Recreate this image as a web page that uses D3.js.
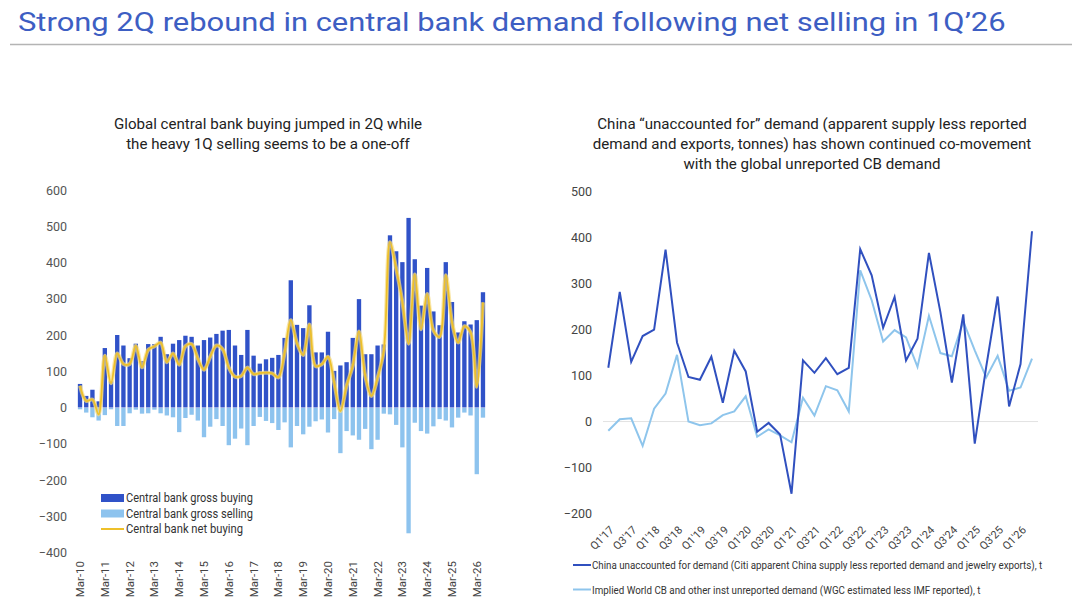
<!DOCTYPE html>
<html>
<head>
<meta charset="utf-8">
<script src="https://cdn.jsdelivr.net/npm/d3@7"></script>
<style>
  body { margin: 0; background: #fff; }
  text { font-family: Roboto, "Noto Sans", sans-serif; }
</style>
</head>
<body>
<div id="chart"></div>
<script>
// left panel: quarterly central bank flows, tonnes
var years = d3.range(2010, 2027);
var months = ["Mar", "Jun", "Sep", "Dec"];
var cbQuarters = [];
years.forEach(function(y) {
  months.forEach(function(m) {
    if (y == 2026 && (m == "Sep" || m == "Dec")) return;
    cbQuarters.push(m + "-" + String(y).slice(2));
  });
});

var grossBuying = [65,32,49,17,164,72,200,171,136,176,
  128,175,175,195,147,176,186,198,195,171,
  186,193,203,212,214,171,145,214,143,121,
  133,137,145,192,351,228,219,282,152,152,
  209,101,116,125,192,299,147,147,171,174,
  475,431,401,523,409,281,385,265,227,401,
  291,207,238,229,241,318];

var grossSelling = [-5,-14,-27,-36,-21,-5,-51,-51,-16,-6,
  -17,-16,-6,-16,-22,-27,-68,-29,-20,-36,
  -82,-53,-32,-51,-104,-86,-58,-104,-51,-26,
  -37,-43,-62,-41,-110,-51,-74,-53,-38,-33,
  -69,-32,-126,-65,-77,-89,-59,-115,-89,-17,
  -19,-48,-110,-347,-42,-65,-72,-52,-32,-36,
  -55,-28,-14,-22,-184,-28];

var netBuying = [60,18,22,-19,143,67,149,120,120,170,
  111,159,169,179,125,149,118,169,175,135,
  104,140,171,161,110,85,87,110,92,95,
  96,94,83,151,241,177,145,229,114,119,
  140,69,-10,60,115,210,88,32,82,157,
  456,383,291,176,367,216,313,213,195,365,
  236,179,224,207,57,290];

var leftTicks = [-400,-300,-200,-100,0,100,200,300,400,500,600];

// right panel: China unaccounted vs implied CB demand, tonnes
var chinaQuarters = [];
d3.range(17, 27).forEach(function(y) {
  [1,2,3,4].forEach(function(q) {
    if (y == 26 && q > 2) return;
    chinaQuarters.push("Q" + q + "'" + y);
  });
});

var chinaUnaccounted = [117,282,130,186,200,374,172,97,91,141,
  41,154,109,-22,-3,-28,-157,133,106,138,
  103,117,375,318,204,271,133,180,367,238,
  85,233,-48,119,272,33,125,414];

var impliedCB = [-20,5,7,-53,28,61,145,0,-8,-4,
  14,22,55,-33,-17,-30,-45,52,13,77,
  68,22,329,264,174,199,183,119,230,149,
  142,218,155,96,143,67,74,137];

var rightTicks = [-200,-100,0,100,200,300,400,500];

var colBuy = "#3052C8", colSell = "#8DC3EE", colNet = "#EEC02A";
var colChina = "#3050BF", colImplied = "#8EC5EC";

var svg = d3.select("#chart")
  .append("svg")
    .attr("width", 1080)
    .attr("height", 609);

svg.append("rect").attr("width", 1080).attr("height", 609).attr("fill", "#fff");

// squeeze a text horizontally to a given width (the source font is condensed)
function fitWidth(sel, x0, y0) {
  sel.each(function(d) {
    var w = this.getComputedTextLength();
    var k = d.len / w;
    d3.select(this).attr("transform", "translate(" + x0 + "," + y0 + ") scale(" + k + ",1)");
  });
}

// header
var header = [{name: "Strong 2Q rebound in central bank demand following net selling in 1Q\u201926", len: 988}];
svg.selectAll("htitle")
  .data(header)
  .enter()
  .append("text")
    .attr("font-size", 26.5)
    .attr("fill", "#3D5EC3")
    .text(function(d) { return d.name; })
    .call(fitWidth, 18, 31);

svg.append("line")
  .attr("x1", 10).attr("x2", 1072)
  .attr("y1", 44.5).attr("y2", 44.5)
  .attr("stroke", "#b4b4b4")
  .attr("stroke-width", 1.5);

// ---------- left chart ----------
var leftTitle = ["Global central bank buying jumped in 2Q while", "the heavy 1Q selling seems to be a one-off"];
svg.selectAll("ltitle")
  .data(leftTitle)
  .enter()
  .append("text")
    .attr("x", 268)
    .attr("y", function(d, i) { return 129 + i * 20; })
    .attr("text-anchor", "middle")
    .attr("font-size", 15.1)
    .attr("fill", "#222")
    .text(function(d) { return d; });

var x = d3.scaleBand()
  .domain(cbQuarters)
  .range([76, 487])
  .padding(0.3);

var y = d3.scaleLinear()
  .domain([-400, 600])
  .range([552.5, 190]);

var yAxisL = svg.append("g")
  .attr("transform", "translate(67,0)")
  .call(d3.axisLeft(y).tickValues(leftTicks).tickSize(0).tickPadding(0));
yAxisL.select(".domain").remove();
yAxisL.selectAll("text")
  .attr("font-size", 12.5)
  .attr("fill", "#555")
  .attr("font-family", "Roboto, sans-serif");

svg.selectAll("buybar")
  .data(grossBuying)
  .enter()
  .append("rect")
    .attr("x", function(d, i) { return x(cbQuarters[i]); })
    .attr("width", x.bandwidth())
    .attr("y", function(d) { return y(d); })
    .attr("height", function(d) { return y(0) - y(d); })
    .attr("fill", colBuy);

svg.selectAll("sellbar")
  .data(grossSelling)
  .enter()
  .append("rect")
    .attr("x", function(d, i) { return x(cbQuarters[i]); })
    .attr("width", x.bandwidth())
    .attr("y", y(0) + 0.5)
    .attr("height", function(d) { return Math.max(0, y(d) - y(0) - 0.5); })
    .attr("fill", colSell);

var netLine = d3.line()
  .x(function(d, i) { return x(cbQuarters[i]) + x.bandwidth() / 2; })
  .y(function(d) { return y(d); })
  .curve(d3.curveCatmullRom.alpha(0.5));

svg.append("path")
  .datum(netBuying)
  .attr("d", netLine)
  .attr("fill", "none")
  .attr("stroke", "#F6DC80")
  .attr("stroke-opacity", 0.7)
  .attr("stroke-width", 4);
svg.append("path")
  .datum(netBuying)
  .attr("d", netLine)
  .attr("fill", "none")
  .attr("stroke", colNet)
  .attr("stroke-width", 1.8);

// x labels, only March quarters
var xAxisL = svg.append("g")
  .attr("transform", "translate(0,558)")
  .call(d3.axisBottom(x)
    .tickValues(cbQuarters.filter(function(d) { return d.indexOf("Mar") == 0; }))
    .tickSize(0).tickPadding(0));
xAxisL.select(".domain").remove();
xAxisL.selectAll("text")
  .attr("transform", "rotate(-90)")
  .attr("x", -3)
  .attr("y", 0)
  .attr("dy", "0.35em")
  .style("text-anchor", "end")
  .attr("font-size", 11.5)
  .attr("fill", "#444")
  .attr("font-family", "Roboto, sans-serif");

// legend
var leftLegend = [
  {name: "Central bank gross buying", type: "rect", color: colBuy, len: 127},
  {name: "Central bank gross selling", type: "rect", color: colSell, len: 127},
  {name: "Central bank net buying", type: "line", color: colNet, len: 117}
];
var lg = svg.selectAll("lleg")
  .data(leftLegend)
  .enter()
  .append("g")
    .attr("transform", function(d, i) { return "translate(101," + (498 + i * 15.5) + ")"; });
lg.filter(function(d) { return d.type == "rect"; })
  .append("rect")
    .attr("x", 0).attr("y", -4)
    .attr("width", 23).attr("height", 8)
    .attr("fill", function(d) { return d.color; });
lg.filter(function(d) { return d.type == "line"; })
  .append("line")
    .attr("x1", 0).attr("x2", 23)
    .attr("stroke", function(d) { return d.color; })
    .attr("stroke-width", 2);
lg.append("text")
  .attr("font-size", 12)
  .attr("fill", "#333")
  .text(function(d) { return d.name; })
  .call(fitWidth, 25, 4);

// ---------- right chart ----------
var rightTitle = [
  "China \u201cunaccounted for\u201d demand (apparent supply less reported",
  "demand and exports, tonnes) has shown continued co-movement",
  "with the global unreported CB demand"
];
svg.selectAll("rtitle")
  .data(rightTitle)
  .enter()
  .append("text")
    .attr("x", 812)
    .attr("y", function(d, i) { return 129 + i * 20; })
    .attr("text-anchor", "middle")
    .attr("font-size", 15.1)
    .attr("fill", "#222")
    .text(function(d) { return d; });

var x2 = d3.scalePoint()
  .domain(chinaQuarters)
  .range([608.3, 1032]);

var y2 = d3.scaleLinear()
  .domain([-200, 500])
  .range([513.5, 191.7]);

var yAxisR = svg.append("g")
  .attr("transform", "translate(592,0)")
  .call(d3.axisLeft(y2).tickValues(rightTicks).tickSize(0).tickPadding(0));
yAxisR.select(".domain").remove();
yAxisR.selectAll("text")
  .attr("font-size", 12.5)
  .attr("fill", "#444")
  .attr("font-family", "Roboto, sans-serif");

svg.append("line")
  .attr("x1", 603).attr("x2", 1038)
  .attr("y1", y2(0)).attr("y2", y2(0))
  .attr("stroke", "#e2e2e2")
  .attr("stroke-width", 1);

var xAxisR = svg.append("g")
  .attr("transform", "translate(0,524)")
  .call(d3.axisBottom(x2)
    .tickValues(chinaQuarters.filter(function(d, i) { return i % 2 == 0; }))
    .tickSize(0).tickPadding(0));
xAxisR.select(".domain").remove();
xAxisR.selectAll("text")
  .attr("transform", "translate(3,4) rotate(-45)")
  .attr("x", 0)
  .attr("y", 0)
  .attr("dy", "0.35em")
  .style("text-anchor", "end")
  .attr("font-size", 11)
  .attr("fill", "#444")
  .attr("font-family", "Roboto, sans-serif");

var rline = d3.line()
  .x(function(d, i) { return x2(chinaQuarters[i]); })
  .y(function(d) { return y2(d); });

svg.append("path")
  .datum(impliedCB)
  .attr("d", rline)
  .attr("fill", "none")
  .attr("stroke", colImplied)
  .attr("stroke-width", 2);

svg.append("path")
  .datum(chinaUnaccounted)
  .attr("d", rline)
  .attr("fill", "none")
  .attr("stroke", colChina)
  .attr("stroke-width", 2);

var rightLegend = [
  {name: "China unaccounted for demand (Citi apparent China supply less reported demand and jewelry exports), t", color: colChina, len: 451},
  {name: "Implied World CB and other inst unreported demand (WGC estimated less IMF reported), t", color: colImplied, len: 389}
];
var rg = svg.selectAll("rleg")
  .data(rightLegend)
  .enter()
  .append("g")
    .attr("transform", function(d, i) { return "translate(573," + (565 + i * 24.5) + ")"; });
rg.append("line")
  .attr("x1", 0).attr("x2", 18)
  .attr("stroke", function(d) { return d.color; })
  .attr("stroke-width", 2);
rg.append("text")
  .attr("font-size", 11.5)
  .attr("fill", "#333")
  .text(function(d) { return d.name; })
  .call(fitWidth, 19, 4);
</script>
</body>
</html>
